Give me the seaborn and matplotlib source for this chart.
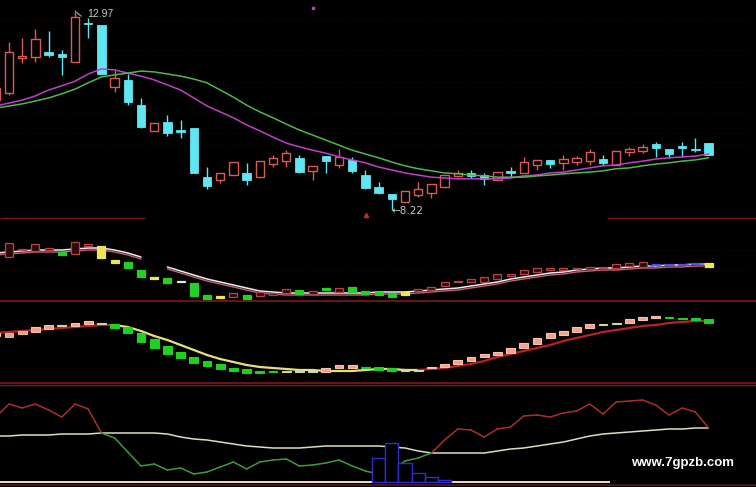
import numpy as np
import matplotlib
matplotlib.use("Agg")
import matplotlib.pyplot as plt
import matplotlib.transforms as mtransforms
import seaborn as sns

# ---------------- data ----------------
idx = np.arange(-1, 54)   # candle number, -1 is the half hidden one at the left edge

# main panel: daily candles
k_open = [10.83, 11.00, 11.83, 11.85, 11.97, 11.92, 11.73, 12.66, 12.61, 11.14, 11.31, 10.71, 10.10, 10.31,
          10.12, 10.17, 9.00, 8.93, 9.05, 9.10, 9.00, 9.31, 9.38, 9.46, 9.15, 9.50, 9.29, 9.41, 9.05, 8.77,
          8.60, 8.41, 8.58, 8.62, 8.77, 9.03, 9.10, 9.05, 8.93, 9.15, 9.10, 9.29, 9.41, 9.34, 9.36, 9.38,
          9.43, 9.29, 9.60, 9.62, 9.79, 9.67, 9.74, 9.67, 9.81]
k_close = [11.12, 11.97, 11.88, 12.28, 11.90, 11.85, 12.80, 12.63, 11.45, 11.35, 10.78, 10.19, 10.29, 10.05,
           10.07, 9.10, 8.79, 9.10, 9.36, 8.93, 9.38, 9.46, 9.57, 9.12, 9.27, 9.38, 9.48, 9.15, 8.74, 8.62,
           8.48, 8.67, 8.72, 8.84, 9.05, 9.10, 9.03, 8.96, 9.12, 9.10, 9.36, 9.41, 9.31, 9.43, 9.46, 9.60,
           9.34, 9.62, 9.67, 9.72, 9.69, 9.55, 9.69, 9.65, 9.53]
k_high = [11.19, 12.21, 12.30, 12.52, 12.47, 12.02, 12.97, 12.78, 12.61, 11.55, 11.45, 10.88, 10.29, 10.48,
          10.36, 10.17, 9.24, 9.10, 9.36, 9.34, 9.38, 9.53, 9.64, 9.53, 9.27, 9.50, 9.67, 9.48, 9.17, 8.88,
          8.60, 8.67, 8.88, 8.84, 9.05, 9.17, 9.17, 9.10, 9.12, 9.24, 9.48, 9.41, 9.41, 9.53, 9.50, 9.67,
          9.53, 9.62, 9.72, 9.79, 9.83, 9.67, 9.83, 9.93, 9.81]
k_low = [10.78, 10.95, 11.71, 11.73, 11.85, 11.43, 11.73, 12.30, 11.45, 11.02, 10.71, 10.17, 10.10, 9.98,
         9.93, 9.10, 8.72, 8.86, 9.05, 8.81, 9.00, 9.24, 9.24, 9.10, 8.93, 9.10, 9.22, 9.10, 8.72, 8.60,
         8.22, 8.41, 8.53, 8.51, 8.77, 9.00, 8.98, 8.81, 8.93, 9.00, 9.10, 9.17, 9.22, 9.17, 9.29, 9.29,
         9.29, 9.29, 9.50, 9.57, 9.48, 9.46, 9.48, 9.60, 9.53]
ma_fast = [10.69, 10.76, 10.83, 10.93, 11.07, 11.17, 11.28, 11.45, 11.57, 11.55, 11.47, 11.40, 11.31, 11.19,
           11.07, 10.88, 10.69, 10.55, 10.41, 10.24, 10.10, 9.95, 9.81, 9.72, 9.64, 9.57, 9.48, 9.41, 9.34,
           9.24, 9.17, 9.10, 9.05, 9.00, 8.98, 8.96, 8.96, 8.96, 8.96, 8.98, 9.03, 9.05, 9.10, 9.12, 9.17,
           9.22, 9.27, 9.29, 9.34, 9.38, 9.43, 9.46, 9.48, 9.50, 9.55]
ma_slow = [10.64, 10.69, 10.74, 10.81, 10.88, 10.98, 11.09, 11.24, 11.38, 11.43, 11.47, 11.52, 11.50, 11.45,
           11.40, 11.33, 11.24, 11.07, 10.90, 10.71, 10.55, 10.41, 10.26, 10.12, 10.00, 9.88, 9.76, 9.64,
           9.55, 9.46, 9.36, 9.27, 9.20, 9.15, 9.10, 9.08, 9.05, 9.03, 9.00, 9.00, 9.00, 9.03, 9.05, 9.08,
           9.10, 9.12, 9.15, 9.20, 9.22, 9.27, 9.31, 9.34, 9.38, 9.41, 9.46]
hi_label, hi_at = "12.97", 5
lo_label, lo_at = "8.22", 29

# second panel: boxes along a smoothed line
nan = np.nan
p2_lo = [nan, 45, 52.5, 51, 52, 47, 48, 56, 44, 39, 34, 25, 23, 19, 20, 6, 3, 4, 5, 3, 6, 7, 9, 8, 8, 12,
         10, 10, 8, 7, 5, 7, 11, 12, 16, 20, 20, 20, 23, 26, 28, 30, 32, 32, 33, 33, 34, 34, 36, 35, 37.5,
         37.5, 37.5, 38, 35]
p2_hi = [nan, 59, 53.5, 58, 54, 50, 60, 58, 56, 42, 40, 32, 25, 24, 21, 19, 7, 6, 9, 7, 10, 9, 13, 12, 11,
         14, 14, 15, 11, 10, 9, 10, 13, 15, 20, 21, 23, 25, 28, 28, 32, 34, 34, 34, 34, 35, 35, 38, 39, 40,
         38.5, 38.5, 38.5, 39, 39]
p2_kind = list("-rrrrgrryyggygwggyrgrrrgrgrggggy" + "r" * 18 + "bbbby")
p2_line = [49, 50, 51, 52, 52, 52, 53, 54, 54, 52, 49, 45, nan, 35, 31, 27, 23, 20, 17, 14, 11, 10, 9, 9, 9,
           9, 9, 9, 9, 10, 10, 10, 11, 12, 13, 14, 16, 18, 20, 23, 25, 27, 29, 30, 32, 33, 34, 34, 35, 36,
           36, 37, 37, 38, 38]

# third panel
p3_lo = [47, 46, 49, 51, 54, 57, 57, 59, 59, 55, 50, 41, 35, 29, 25, 20, 17, 14, 12, 10, 10, 11, 11, 11, 11,
         11, 15, 15, 15, 13, 12, 12, 12, 15, 16, 19, 22, 26, 28, 30, 35, 39, 45, 48, 51, 55, 58, 59, 60, 63,
         65, 65, 64, 63, 60]
p3_hi = [50, 50, 52, 56, 58, 58, 60, 62, 60, 59, 56, 50, 44, 37, 31, 26, 22, 19, 15, 14, 12, 12, 12, 13, 13,
         15, 18, 18, 16, 16, 15, 14, 13, 16, 19, 23, 26, 29, 31, 35, 40, 45, 50, 52, 56, 59, 59, 60, 64, 66,
         67, 66, 65, 65, 64]
p3_kind = list("sttsswssw" + "g" * 13 + "wwwsssgggww" + "s" * 13 + "wwsssgggg")
p3_line = [50, 51, 52, 53, 54, 55, 56, 57, 58, 58, 56, 52, 47, 43, 38, 33, 28, 24, 21, 18, 16, 15, 14, 13,
           13, 12, 12, 12, 13, 14, 14, 13, 13, 14, 15, 17, 19, 22, 26, 29, 32, 35, 38, 42, 45, 48, 51, 53,
           55, 57, 58, 60, 61, 62, 62]

# bottom panel
p4_base = [46, 46, 47, 47, 47, 48, 48, 48, 49, 49, 49, 49, 49, 48, 45, 43, 42, 40, 38, 36, 35, 34, 34, 34,
           35, 36, 36, 36, 36, 36, 35, 34, 31, 29, 29, 29, 29, 29, 31, 33, 34, 36, 38, 40, 43, 46, 48, 49,
           50, 51, 52, 53, 53, 54, 54]
p4_osc = [65, 78, 74, 78, 72, 65, 78, 73, 49, 44, 30, 16, 18, 12, 14, 8, 10, 15, 20, 13, 20, 22, 23, 16, 17,
          19, 22, 16, 11, 8, 12, 21, 24, 29, 42, 53, 52, 45, 53, 55, 66, 67, 65, 69, 71, 78, 68, 80, 81, 82,
          77, 67, 74, 70, 54]
hist_idx = [28, 29, 30, 31, 32, 33]
hist_val = [24, 39, 19, 9, 5, 2]
site = "www.7gpzb.com"

# ---------------- style ----------------
sns.set_theme(style="dark", rc={"axes.facecolor": "black", "figure.facecolor": "black"})
plt.rcParams["font.family"] = ["Liberation Sans", "DejaVu Sans"]

UP, DOWN = "#dd5b55", "#5ee6f2"
GRID = "#2c0909"
SEP = "#7a1a1a"

W, H = 756, 487
fig = plt.figure(figsize=(W / 100, H / 100), dpi=100)

def panel(top, bottom):
    ax = fig.add_axes([0, (H - bottom) / H, 1, (bottom - top) / H])
    ax.set_axis_off()
    ax.set_xlim((0 - 9) / 13.2, (W - 9) / 13.2)
    return ax

ax1 = panel(0, 219)
ax2 = panel(219, 302)
ax3 = panel(302, 384)
ax4 = panel(384, 487)
ax1.set_ylim(13.2075 - 0.02375 * 219, 13.2075)
ax2.set_ylim(0, 83)
ax3.set_ylim(-1, 81)
ax4.set_ylim(-5, 98)
x_left, x_right = ax1.get_xlim()

# ---------------- main panel ----------------
for yv in [12.73, 12.02, 11.26, 10.52, 10.05, 9.76]:
    ax1.axhline(yv, color=GRID, lw=0.8, ls=(0, (1, 3)), zorder=0)
ax1.hlines(8.03, x_left, 10.3, color=SEP, lw=1)
ax1.hlines(8.03, 45.3, x_right, color=SEP, lw=1)

o, c = np.array(k_open), np.array(k_close)
up = c >= o
cols = np.where(up, UP, DOWN)
ax1.vlines(idx, k_low, k_high, colors=cols, lw=1, zorder=2)
body_lo = np.minimum(o, c)
body_h = np.maximum(np.abs(c - o), 0.025)
ax1.bar(idx[up], body_h[up], bottom=body_lo[up], width=0.64, facecolor="black",
        edgecolor=UP, lw=1, zorder=3)
ax1.bar(idx[~up], body_h[~up], bottom=body_lo[~up], width=0.64, facecolor=DOWN,
        edgecolor=DOWN, lw=0.6, zorder=3)

sns.lineplot(x=idx, y=ma_fast, ax=ax1, color="#c23fc8", lw=1.1, zorder=4)
sns.lineplot(x=idx, y=ma_slow, ax=ax1, color="#4fb84a", lw=1.1, zorder=4)

ax1.annotate(hi_label, xy=(hi_at, k_high[hi_at + 1]), xytext=(hi_at + 0.9, k_high[hi_at + 1] - 0.1),
             color="#c8c8c8", fontsize=7.5, va="center", ha="left",
             arrowprops=dict(arrowstyle="-", color="#c8c8c8", lw=0.7,
                             connectionstyle="arc3,rad=-0.5"))
ax1.text(lo_at, k_low[lo_at + 1] - 0.02, "\u2190" + lo_label, color="#c8c8c8", fontsize=7.5,
         va="center", ha="left", family=["DejaVu Sans"])
ax1.plot([27.05], [8.10], marker="^", ms=3, color="#c03030", ls="none")
ax1.plot([23], [13.02], marker="s", ms=1.5, color="#c040c0", ls="none")

# ---------------- second panel ----------------
ax2.axhline(32, color=GRID, lw=0.8, ls=(0, (1, 3)))
ax2.hlines(52, 45.3, x_right, color=GRID, lw=0.8, ls=(0, (1, 3)))
ax2.hlines(52, x_left, 10.3, color=GRID, lw=0.8, ls=(0, (1, 3)))
ax2.axhline(1, color=SEP, lw=1.2)

line2 = np.array(p2_line, dtype=float)
shift = mtransforms.offset_copy(ax2.transData, fig=fig, x=0, y=-2, units="dots")
ax2.plot(idx, line2, color="#c8607a", lw=1.0, transform=shift, zorder=2)
ax2.plot(idx, line2, color="#f2ecf2", lw=1.1, zorder=2)
tail = idx >= 48
ax2.plot(idx[tail], line2[tail], color="#6a6aff", lw=1.3, ls=(0, (2, 2)), zorder=2)

face2 = {"r": "#2a0a0a", "g": "#25cf25", "y": "#ece45a", "w": "#e6e6d6", "b": "#5050e8"}
edge2 = {"r": "#b84444", "g": "#25cf25", "y": "#ece45a", "w": "#e6e6d6", "b": "#5050e8"}
for i, lo_, hi_, kd in zip(idx, p2_lo, p2_hi, p2_kind):
    if kd == "-":
        continue
    ax2.bar(i, hi_ - lo_, bottom=lo_, width=0.6, facecolor=face2[kd], edgecolor=edge2[kd],
            lw=0.9, zorder=3)

# ---------------- third panel ----------------
ax3.axhline(0, color=SEP, lw=1.2)
line3 = np.array(p3_line, dtype=float)
for j in range(len(idx) - 1):
    falling = 8 <= idx[j] < 31
    ax3.plot(idx[j:j + 2], line3[j:j + 2], color="#e6e07a" if falling else "#b82222",
             lw=1.6, zorder=2, solid_capstyle="round")

face3 = {"s": "#f4a286", "t": "#d9aa7a", "g": "#1fd11f", "w": "#cfd6a8"}
edge3 = {"s": "#f8c2ac", "t": "#e2b98e", "g": "#1fd11f", "w": "#cfd6a8"}
for i, lo_, hi_, kd in zip(idx, p3_lo, p3_hi, p3_kind):
    ax3.bar(i, hi_ - lo_, bottom=lo_, width=0.66, facecolor=face3[kd], edgecolor=edge3[kd],
            lw=0.8, zorder=3)

# ---------------- bottom panel ----------------
ax4.axhline(97, color=SEP, lw=1)
ax4.axhline(-3, color="#4a1212", lw=1.5)
ax4.hlines(0, x_left, 45.5, color="#e8e2cc", lw=1.4)

sns.lineplot(x=idx, y=p4_base, ax=ax4, color="#dcdcc4", lw=1.1, zorder=2)
osc = np.array(p4_osc, dtype=float)
base = np.array(p4_base, dtype=float)
for j in range(len(idx) - 1):
    above = osc[j] + osc[j + 1] >= base[j] + base[j + 1]
    ax4.plot(idx[j:j + 2], osc[j:j + 2], color="#a8302c" if above else "#3f9a3f", lw=1.1, zorder=2)

ax4.bar(hist_idx, hist_val, width=1.0, bottom=0, facecolor="black", edgecolor="#2e2ed0",
        lw=1.0, zorder=3)

ax4.text(51.06, 19, site, color="white", fontsize=9.5, fontweight="bold", ha="center", va="center")

fig.savefig("out.png", dpi=100, facecolor="black")
